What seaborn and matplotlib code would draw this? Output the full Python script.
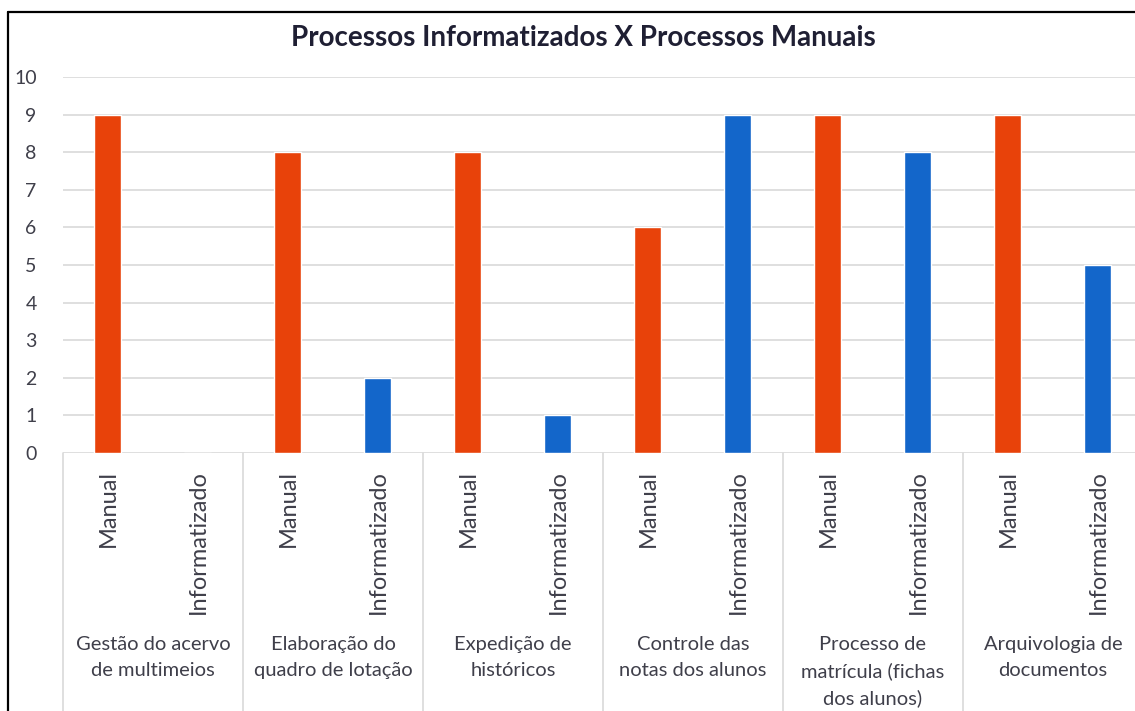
import pandas as pd
import seaborn as sns
import matplotlib.pyplot as plt
from matplotlib.lines import Line2D
import matplotlib.transforms as mtransforms

# Data
grupos = ["Gestão do acervo\nde multimeios",
          "Elaboração do\nquadro de lotação",
          "Expedição de\nhistóricos",
          "Controle das\nnotas dos alunos",
          "Processo de\nmatrícula (fichas\ndos alunos)",
          "Arquivologia de\ndocumentos"]
tipos = ["Manual", "Informatizado"]
manual = [9, 8, 8, 6, 9, 9]
informatizado = [0, 2, 1, 9, 8, 5]

cor_manual = "#E8420A"
cor_info = "#1366CA"
cor_texto = "#3F3F4A"

rows = []
for i, g in enumerate(grupos):
    rows.append({"slot": f"{i}-Manual", "tipo": "Manual", "valor": manual[i]})
    rows.append({"slot": f"{i}-Informatizado", "tipo": "Informatizado", "valor": informatizado[i]})
df = pd.DataFrame(rows)

sns.set_style("white")
plt.rcParams['font.family'] = ['Lato', 'DejaVu Sans']

fig = plt.figure(figsize=(11.35, 7.11), dpi=100)
ax = fig.add_axes([63 / 1135, 258 / 711, 1080 / 1135, 376 / 711])

sns.barplot(data=df, x="slot", y="valor", hue="tipo", order=df["slot"].tolist(),
            palette={"Manual": cor_manual, "Informatizado": cor_info},
            dodge=False, width=0.3, saturation=1, ax=ax, legend=False)

ax.set_ylim(0, 10)
ax.set_xlim(-0.5, len(df) - 0.5)
ax.set_yticks(range(0, 11))
ax.yaxis.grid(True, color="#D9D9D9", linewidth=1.2)
ax.set_axisbelow(True)
for s in ax.spines.values():
    s.set_visible(False)
ax.tick_params(axis="y", length=0, pad=19, labelsize=14, labelcolor=cor_texto)
ax.set_xlabel("")
ax.set_ylabel("")

# lower level labels
ax.set_xticks(range(len(df)))
ax.set_xticklabels([t for _ in grupos for t in tipos], rotation=90,
                   fontsize=17, color=cor_texto, va="top", ha="center")
ax.tick_params(axis="x", length=0, pad=12)

# group separators and group labels
trans = mtransforms.blended_transform_factory(ax.transData, ax.transAxes)
for k in range(len(grupos) + 1):
    xb = 2 * k - 0.5
    ax.plot([xb, xb], [0, -0.75], transform=trans, color="#D9D9D9",
            linewidth=1.2, clip_on=False)
for k, g in enumerate(grupos):
    ax.text(2 * k + 0.5, -0.488, g, transform=trans, ha="center", va="top",
            fontsize=14.5, color=cor_texto, linespacing=1.6)

fig.text(583 / 1135, 1 - 38 / 711, "Processos Informatizados X Processos Manuais",
         ha="center", va="center", fontsize=20, fontweight="bold", color="#1F1F33")

# outer frame (cropped chart border)
fig.add_artist(Line2D([8 / 1135, 8 / 1135], [0, 1 - 12 / 711], color="black",
                      linewidth=1.6, transform=fig.transFigure))
fig.add_artist(Line2D([8 / 1135, 1], [1 - 12 / 711, 1 - 12 / 711], color="black",
                      linewidth=1.6, transform=fig.transFigure))

fig.savefig("out.png", dpi=100)
